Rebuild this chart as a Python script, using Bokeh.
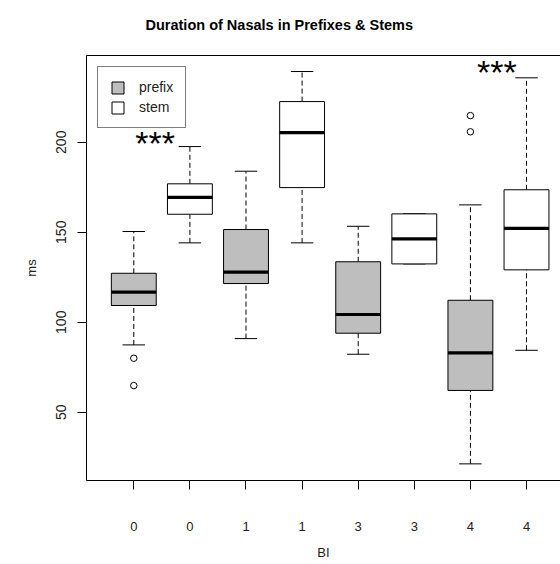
from bokeh.plotting import figure
from bokeh.models import ColumnDataSource, FixedTicker, LinearAxis, Range1d
from bokeh.core.properties import value
from bokeh.embed import file_html
from bokeh.resources import INLINE

# ---- data ----
positions = [1, 2, 3, 4, 5, 6, 7, 8]
bi_labels = ["0", "0", "1", "1", "3", "3", "4", "4"]
morph = ["prefix", "stem", "prefix", "stem", "prefix", "stem", "prefix", "stem"]
whisker_low = [87.4, 144.1, 90.9, 144.1, 82.2, 132.4, 21.3, 84.4]
q1 = [109.3, 160.0, 121.5, 174.8, 93.9, 132.4, 62.1, 129.1]
median = [116.7, 169.4, 127.8, 205.4, 104.3, 146.3, 83.0, 152.2]
q3 = [127.2, 176.9, 151.5, 222.6, 133.6, 160.2, 112.2, 173.6]
whisker_high = [150.4, 197.6, 183.9, 239.3, 153.3, 160.2, 165.2, 235.8]
outlier_pos = [1, 1, 7, 7]
outlier_ms = [80.0, 64.8, 214.8, 205.8]
y_ticks = [50, 100, 150, 200]
sig_text = ["***", "***"]
sig_x = [1.38, 7.47]
sig_y = [199.4, 239.0]
title_text = "Duration of Nasals in Prefixes & Stems"

FONT = "Liberation Sans"
BOX_W = 0.8
CAP_W = 0.4

src = ColumnDataSource(dict(
    x=positions, morph=morph, lo=whisker_low, q1=q1, med=median, q3=q3, hi=whisker_high,
    x0=[x - BOX_W / 2 for x in positions], x1=[x + BOX_W / 2 for x in positions],
    c0=[x - CAP_W / 2 for x in positions], c1=[x + CAP_W / 2 for x in positions],
))

p = figure(width=560, height=564,
           x_range=Range1d(0.157, 8.606), y_range=Range1d(12.06, 248.2),
           output_backend="svg", toolbar_location=None,
           min_border_left=86, min_border_right=0, min_border_top=55, min_border_bottom=84,
           title=title_text + "\n ")
p.outline_line_color = None
p.grid.visible = False
p.background_fill_color = "white"
p.border_fill_color = "white"

p.title.text_font = FONT
p.title.text_font_size = "14.5px"
p.title.text_font_style = "bold"
p.title.text_color = "black"
p.title.align = "left"
p.title.offset = 59
p.title.standoff = 14

# whiskers (dashed)
p.segment(x0="x", y0="q3", x1="x", y1="hi", source=src, line_color="black",
          line_width=1, line_dash="5 3")
p.segment(x0="x", y0="lo", x1="x", y1="q1", source=src, line_color="black",
          line_width=1, line_dash="5 3")
# staples
p.segment(x0="c0", y0="hi", x1="c1", y1="hi", source=src, line_color="black", line_width=1)
p.segment(x0="c0", y0="lo", x1="c1", y1="lo", source=src, line_color="black", line_width=1)

# boxes, split by morph type for the legend
pre_idx = [i for i, m in enumerate(morph) if m == "prefix"]
stm_idx = [i for i, m in enumerate(morph) if m == "stem"]
def sub(idx):
    return ColumnDataSource(dict(x=[positions[i] for i in idx],
                                 q1=[q1[i] for i in idx], q3=[q3[i] for i in idx]))
r_pre = p.vbar(x="x", width=BOX_W, bottom="q1", top="q3", source=sub(pre_idx),
               fill_color="#bebebe", line_color="black", line_width=1,
               legend_label="prefix")
r_stm = p.vbar(x="x", width=BOX_W, bottom="q1", top="q3", source=sub(stm_idx),
               fill_color="white", line_color="black", line_width=1,
               legend_label="stem")

# medians
p.segment(x0="x0", y0="med", x1="x1", y1="med", source=src, line_color="black",
          line_width=3.2, line_cap="butt")

# outliers
p.scatter(x=outlier_pos, y=outlier_ms, marker="circle", size=6.5,
          fill_color=None, line_color="black", line_width=1)

# significance marks
p.text(x=sig_x, y=sig_y, text=sig_text, text_font=value(FONT), text_font_size="34px",
       text_align="center", text_baseline="alphabetic", text_color="black")

# axes
p.xaxis.ticker = FixedTicker(ticks=positions)
p.xaxis.major_label_overrides = {pos: lab for pos, lab in zip(positions, bi_labels)}
p.yaxis.ticker = FixedTicker(ticks=y_ticks)
p.yaxis.major_label_orientation = "vertical"
p.xaxis.axis_label = "BI"
p.yaxis.axis_label = "ms"
for ax in (p.xaxis, p.yaxis):
    ax.major_tick_in = 0
    ax.major_tick_out = 9
    ax.minor_tick_line_color = None
    ax.axis_line_color = "black"
    ax.major_tick_line_color = "black"
    ax.major_label_text_font = FONT
    ax.major_label_text_font_size = "13px"
    ax.major_label_text_color = "#222222"
    ax.axis_label_text_font = FONT
    ax.axis_label_text_font_size = "13px"
    ax.axis_label_text_font_style = "normal"
    ax.axis_label_text_color = "#222222"
p.yaxis.major_label_text_font_size = "14px"
p.xaxis.major_label_standoff = 32
p.xaxis.axis_label_standoff = 11
p.yaxis.major_label_standoff = 11
p.yaxis.axis_label_standoff = 15

top = LinearAxis(ticker=FixedTicker(ticks=[]), major_label_text_font_size="0px",
                 major_tick_out=0, major_tick_in=0, minor_tick_out=0, minor_tick_in=0,
                 major_label_standoff=0, axis_line_color="black")
p.add_layout(top, "above")

# legend
lg = p.legend[0]
lg.location = "top_left"
lg.margin = 11
lg.padding = 12
lg.spacing = 4
lg.glyph_width = 15
lg.glyph_height = 15
lg.label_height = 16
lg.label_standoff = 14
lg.label_text_font = FONT
lg.label_text_font_size = "14px"
lg.label_text_color = "#222222"
lg.border_line_color = "black"
lg.border_line_width = 1
lg.background_fill_alpha = 1.0

open("out.html", "w").write(file_html(p, INLINE))
